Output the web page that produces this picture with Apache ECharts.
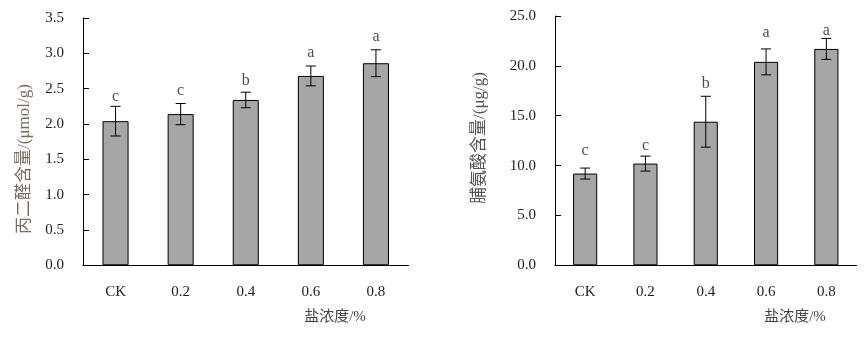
<!DOCTYPE html>
<html><head><meta charset="utf-8">
<script src="https://cdn.jsdelivr.net/npm/echarts@6/dist/echarts.min.js"></script>
<style>html,body{margin:0;padding:0;background:#fff}#c{width:865px;height:337px}</style>
</head><body><div id="c"></div>
<script>
const categories = ['CK', '0.2', '0.4', '0.6', '0.8'];
const mdaMean = [2.04, 2.14, 2.34, 2.68, 2.86];
const mdaErr = [0.21, 0.15, 0.11, 0.14, 0.19];
const mdaLetters = ['c', 'c', 'b', 'a', 'a'];
const mdaLetterAt = [2.39, 2.47, 2.61, 3.01, 3.24];
const proMean = [9.2, 10.2, 14.4, 20.4, 21.7];
const proErr = [0.55, 0.75, 2.55, 1.3, 1.05];
const proLetters = ['c', 'c', 'b', 'a', 'a'];
const proLetterAt = [11.5, 12.0, 18.2, 23.3, 23.5];
const mdaTicks = [0, 0.5, 1.0, 1.5, 2.0, 2.5, 3.0, 3.5];
const proTicks = [0, 5, 10, 15, 20, 25];
const xName = '盐浓度/%';
const mdaName = '丙二醛含量/(μmol/g)';
const proName = '脯氨酸含量/(μg/g)';

const FONT = "'Liberation Serif', 'Noto Sans CJK SC', serif";
const chart = echarts.init(document.getElementById('c'));

function xAxis(gi) {
  return {
    type: 'category', gridIndex: gi, data: categories,
    axisLine: { lineStyle: { color: '#000', width: 1 } },
    axisTick: { inside: true, length: 5, lineStyle: { color: '#000' } },
    axisLabel: { margin: 19, color: '#222', fontFamily: FONT, fontSize: 15 }
  };
}
function yAxis(gi, ticks) {
  return {
    type: 'value', gridIndex: gi, min: ticks[0], max: ticks[ticks.length - 1],
    interval: ticks[1] - ticks[0],
    axisLine: { show: true, lineStyle: { color: '#000', width: 1 } },
    axisTick: { show: true, inside: true, length: 6, lineStyle: { color: '#000' } },
    splitLine: { show: false },
    axisLabel: { margin: 19, color: '#222', fontFamily: FONT, fontSize: 15,
      formatter: v => v.toFixed(1) }
  };
}
function bars(gi, data) {
  return {
    type: 'bar', xAxisIndex: gi, yAxisIndex: gi, data: data, barWidth: '40%',
    itemStyle: { color: '#a6a6a6', borderColor: '#000', borderWidth: 1 },
    silent: true, z: 2
  };
}
function errBars(gi, mean, err) {
  return {
    type: 'custom', xAxisIndex: gi, yAxisIndex: gi, z: 5, silent: true,
    data: mean.map((m, i) => [i, m - err[i], m + err[i]]),
    renderItem: function (params, api) {
      const x = api.value(0);
      const lo = api.coord([x, api.value(1)]);
      const hi = api.coord([x, api.value(2)]);
      const hw = 5;
      const st = { stroke: '#000', lineWidth: 1 };
      return { type: 'group', children: [
        { type: 'line', shape: { x1: lo[0], y1: lo[1], x2: hi[0], y2: hi[1] }, style: st },
        { type: 'line', shape: { x1: lo[0] - hw, y1: lo[1], x2: lo[0] + hw, y2: lo[1] }, style: st },
        { type: 'line', shape: { x1: hi[0] - hw, y1: hi[1], x2: hi[0] + hw, y2: hi[1] }, style: st }
      ]};
    }
  };
}
function letters(gi, at, txt) {
  return {
    type: 'scatter', xAxisIndex: gi, yAxisIndex: gi, symbolSize: 0, silent: true,
    data: at.map((v, i) => [i, v]),
    label: { show: true, position: 'inside', formatter: p => txt[p.dataIndex],
      color: '#222', fontFamily: FONT, fontSize: 16 }
  };
}

chart.setOption({
  animation: false,
  grid: [
    { left: 83, top: 18, width: 325.5, height: 247.3 },
    { left: 555, top: 16, width: 301.5, height: 249.3 }
  ],
  xAxis: [xAxis(0), xAxis(1)],
  yAxis: [yAxis(0, mdaTicks), yAxis(1, proTicks)],
  series: [
    bars(0, mdaMean), errBars(0, mdaMean, mdaErr), letters(0, mdaLetterAt, mdaLetters),
    bars(1, proMean), errBars(1, proMean, proErr), letters(1, proLetterAt, proLetters)
  ],
  graphic: [
    { type: 'text', x: 335, y: 317, style: { text: xName, align: 'center', verticalAlign: 'middle',
      font: "15px " + FONT, fill: '#444' } },
    { type: 'text', x: 795, y: 317, style: { text: xName, align: 'center', verticalAlign: 'middle',
      font: "15px " + FONT, fill: '#444' } },
    { type: 'text', x: 25, y: 159, rotation: Math.PI / 2, style: { text: mdaName, align: 'center',
      verticalAlign: 'middle', font: "17px " + FONT, fill: '#7a6c60' } },
    { type: 'text', x: 480, y: 138, rotation: Math.PI / 2, style: { text: proName, align: 'center',
      verticalAlign: 'middle', font: "17px " + FONT, fill: '#555' } }
  ]
});
</script>
</body></html>
